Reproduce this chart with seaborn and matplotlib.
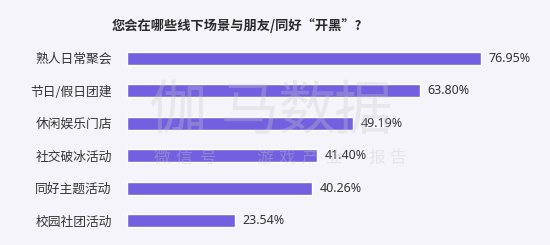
import matplotlib
matplotlib.use("Agg")
import matplotlib.pyplot as plt
import seaborn as sns
import pandas as pd

categories = ["熟人日常聚会", "节日/假日团建", "休闲娱乐门店", "社交破冰活动", "同好主题活动", "校园社团活动"]
values = [76.95, 63.80, 49.19, 41.40, 40.26, 23.54]
labels = ["76.95%", "63.80%", "49.19%", "41.40%", "40.26%", "23.54%"]
title = "您会在哪些线下场景与朋友/同好“开黑”?"
watermark_big = "伽马数据"
watermark_small = "微信号 游戏产业报告"

sns.set_theme(style="white")
plt.rcParams['font.family'] = ['Noto Sans CJK SC', 'DejaVu Sans']

bg = "#f5f4fb"
W, H = 550, 245
fig = plt.figure(figsize=(5.5, 2.45), dpi=100, facecolor=bg)
ax = fig.add_axes([0.231, 0.033, 0.769, 0.796], facecolor=bg)

df = pd.DataFrame({"cat": categories, "val": values})
sns.barplot(data=df, x="val", y="cat", color="#7360e0", saturation=1, width=0.4, ax=ax)

ax.set_xlim(0, 92)
ax.set_ylim(5.5, -0.5)
for i, (v, t) in enumerate(zip(values, labels)):
    ax.text(v + 1.6, i, t, va="center", ha="left", fontsize=9, color="#333333",
            family=["Noto Sans", "DejaVu Sans"], zorder=5)

ax.set_xlabel("")
ax.set_ylabel("")
ax.set_xticks([])
ax.tick_params(axis="y", length=0, pad=11, labelsize=9.2, labelcolor="#333333")
for s in ax.spines.values():
    s.set_visible(False)

fig.text(0.43, 0.895, title, ha="center", va="center", fontsize=9.5, fontweight="bold", color="#2a2a2a")

# watermark (spaced characters)
big_x = [178, 250, 307, 363]
for ch, x in zip(watermark_big, big_x):
    fig.text(x / W, 1 - 112 / H, ch, ha="center", va="center", fontsize=42,
             color="#c8c8c8", alpha=0.3)
small_chars = [c for c in watermark_small if c != " "]
small_x = [162, 184, 208, 265, 287, 310, 334, 377, 398]
for ch, x in zip(small_chars, small_x):
    fig.text(x / W, 1 - 158 / H, ch, ha="center", va="center", fontsize=12,
             color="#c8c8c8", alpha=0.35)

fig.savefig("out.png", dpi=100, facecolor=bg)
